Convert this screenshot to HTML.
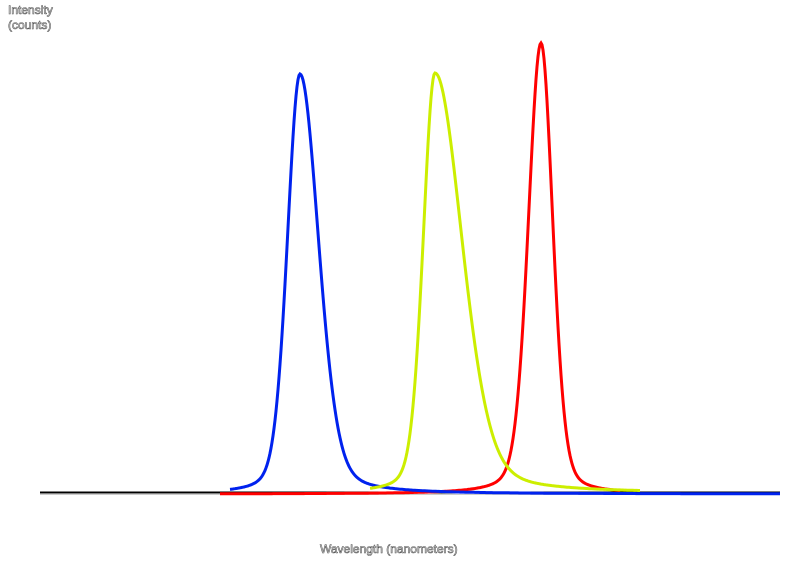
<!DOCTYPE html>
<html><head><style>
body{margin:0;background:#fff;width:800px;height:565px;overflow:hidden}
.t{font-family:"Liberation Sans",sans-serif;font-size:12px;fill:#fff;stroke:#555;stroke-width:0.6}
</style></head><body>
<svg id="s" width="800" height="565" xmlns="http://www.w3.org/2000/svg">
<text class="t" x="8" y="14">Intensity</text>
<text class="t" x="8" y="29">(counts)</text>
<text class="t" x="320" y="553">Wavelength (nanometers)</text>
<line x1="40" y1="492.5" x2="780" y2="492.5" stroke="#000" stroke-width="2"/>
<line x1="40" y1="494.5" x2="780" y2="494.5" stroke="#ccc" stroke-width="1"/>
<path id="r" fill="none" stroke="#f00" stroke-width="3"/>
<path id="b" fill="none" stroke="#0022ee" stroke-width="3"/>
<path id="y" fill="none" stroke="#ccee00" stroke-width="3"/>
</svg>
<script>
function pk(c,top,wl,wr,x0,x1,base){
 var d="",A=493-top;
 for(var x=x0;x<=x1;x+=1){
  var w=x<c?wl:wr,u=(x-c)/w;
  var g=Math.exp(-u*u*0.693),l=1/(1+u*u);
  var v=0.75*g+0.25*l;
  var yv=base-A*v;
  d+=(x==x0?"M":"L")+x+" "+yv.toFixed(1);
 }
 return d;
}
document.getElementById("b").setAttribute("d",pk(300,73,15,22,230,780,494));
document.getElementById("y").setAttribute("d",pk(435,73,14,32,370,640,493));
document.getElementById("r").setAttribute("d",pk(541,42,15,14,220,620,494));
</script>
</body></html>
